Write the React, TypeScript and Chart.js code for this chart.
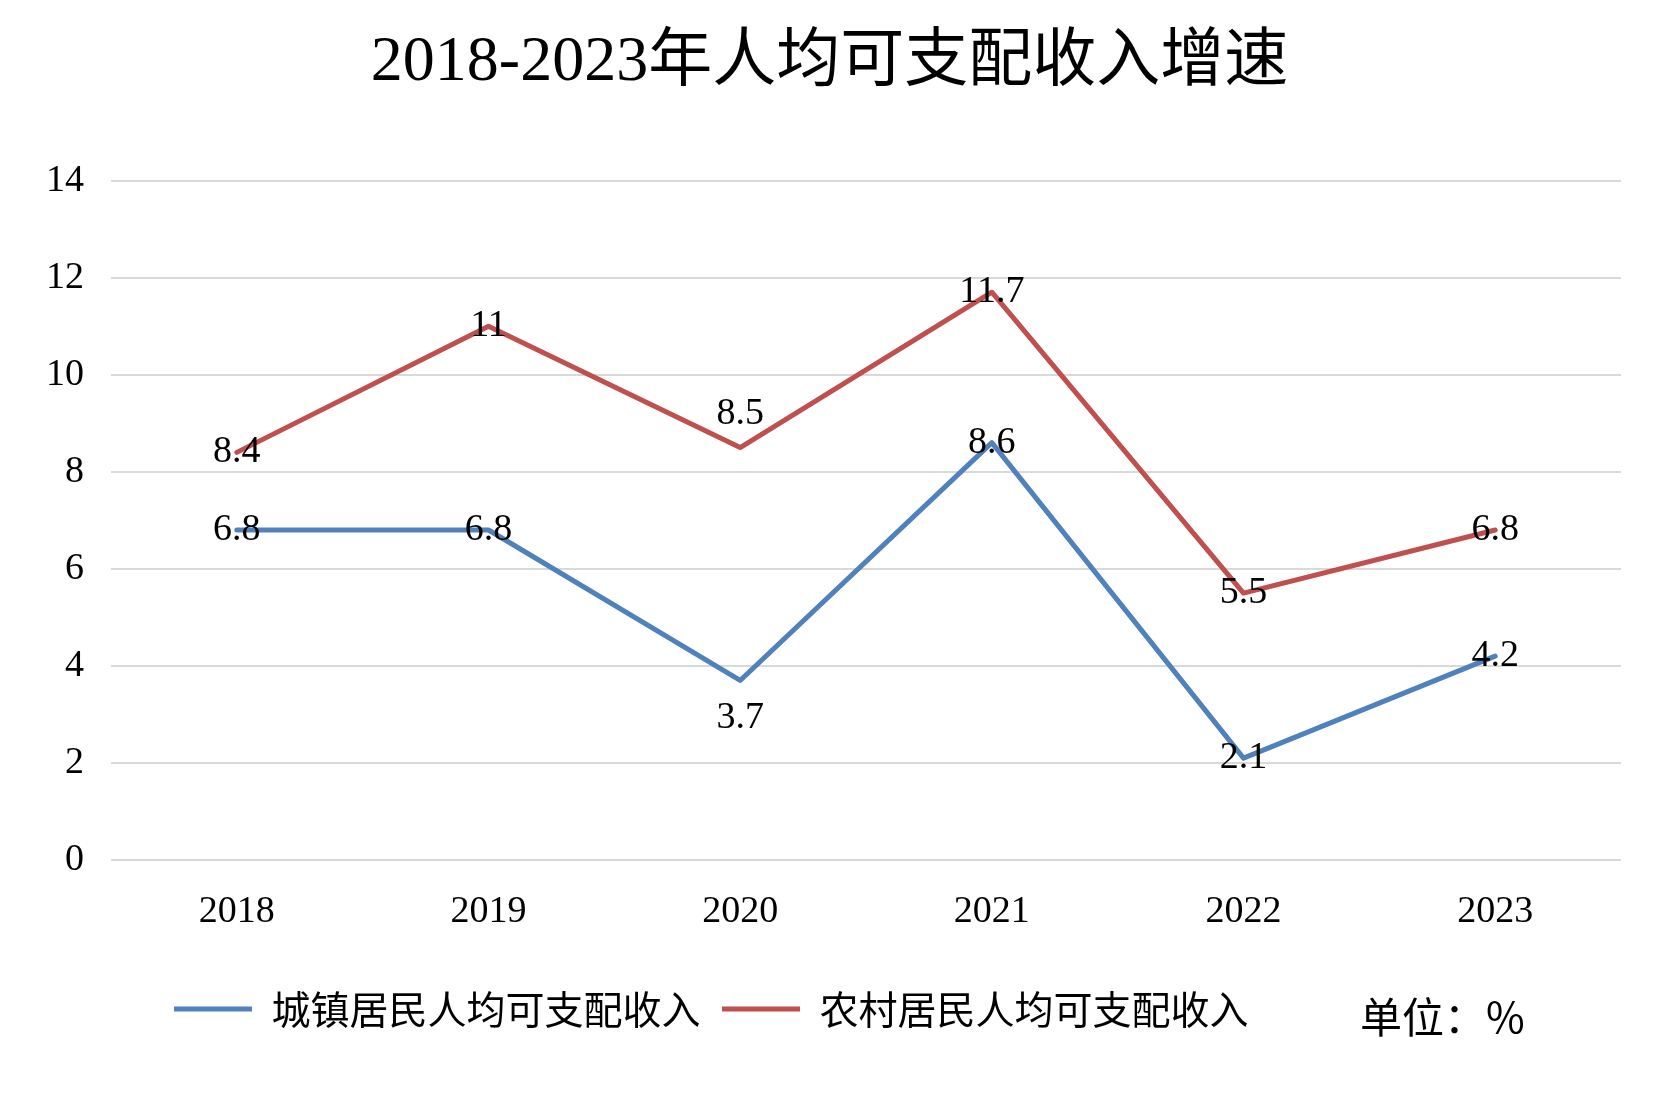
import React, { useEffect, useRef } from "react";
import { Chart, registerables } from "chart.js";

Chart.register(...registerables);

const titleText = "2018-2023年人均可支配收入增速";
const years = ["2018", "2019", "2020", "2021", "2022", "2023"];
const urbanName = "城镇居民人均可支配收入";
const ruralName = "农村居民人均可支配收入";
const urbanGrowth = [6.8, 6.8, 3.7, 8.6, 2.1, 4.2];
const ruralGrowth = [8.4, 11, 8.5, 11.7, 5.5, 6.8];
const urbanLabelPlacement = ["center", "center", "below", "center", "center", "center"];
const ruralLabelPlacement = ["center", "center", "above", "center", "center", "center"];
const unitText = "单位：%";
const yMin = 0;
const yMax = 14;
const yStep = 2;

const BLUE = "#4f81bd";
const RED = "#c0504d";
const SERIF = "'Liberation Serif', 'Times New Roman', serif";
const CJK = "'Noto Sans CJK SC', sans-serif";
const MIXED = "'Liberation Serif', 'Noto Sans CJK SC', serif";

const W = 1653;
const H = 1113;

export default function App() {
  const ref = useRef<HTMLCanvasElement | null>(null);

  useEffect(() => {
    const canvas = ref.current;
    if (!canvas) return;

    const placements = [urbanLabelPlacement, ruralLabelPlacement];

    const dataLabelPlugin = {
      id: "dataLabels",
      afterDatasetsDraw(chart: any) {
        const ctx = chart.ctx;
        ctx.save();
        ctx.font = `38px ${SERIF}`;
        ctx.fillStyle = "#000";
        ctx.textAlign = "center";
        ctx.textBaseline = "middle";
        chart.data.datasets.forEach((ds: any, di: number) => {
          const meta = chart.getDatasetMeta(di);
          meta.data.forEach((pt: any, i: number) => {
            const p = placements[di][i];
            const dy = p === "above" ? -33 : p === "below" ? 38 : 0;
            ctx.fillText(String(ds.data[i]), pt.x, pt.y + dy);
          });
        });
        ctx.restore();
      },
    };

    const layoutTweaks = {
      id: "layoutTweaks",
      afterLayout(chart: any) {
        const lg = chart.legend;
        if (lg) {
          lg.left = 152.5;
        }
        const t = chart.titleBlock;
        if (t) {
          t.left += 19;
          t.right += 19;
        }
      },
      afterDraw(chart: any) {
        const ctx = chart.ctx;
        ctx.save();
        ctx.font = `42px ${CJK}`;
        ctx.fillStyle = "#000";
        ctx.textAlign = "left";
        ctx.textBaseline = "middle";
        ctx.fillText(unitText, 1360, 1017);
        ctx.restore();
      },
    };

    const chart = new Chart(canvas, {
      type: "line",
      data: {
        labels: years,
        datasets: [
          {
            label: urbanName,
            data: urbanGrowth,
            borderColor: BLUE,
            backgroundColor: BLUE,
            borderWidth: 5,
            pointRadius: 0,
            tension: 0,
            borderJoinStyle: "round",
            borderCapStyle: "round",
          },
          {
            label: ruralName,
            data: ruralGrowth,
            borderColor: RED,
            backgroundColor: RED,
            borderWidth: 5,
            pointRadius: 0,
            tension: 0,
            borderJoinStyle: "round",
            borderCapStyle: "round",
          },
        ],
      },
      options: {
        responsive: false,
        animation: false,
        layout: { padding: { left: 0, right: 32, top: 0, bottom: 74.5 } },
        plugins: {
          title: {
            display: true,
            text: titleText,
            color: "#000",
            font: { family: MIXED, size: 64, weight: "normal", lineHeight: 1.2 },
            padding: { top: 24.6, bottom: 79.2 },
          },
          legend: {
            display: true,
            position: "bottom",
            align: "start",
            labels: {
              color: "#000",
              font: { family: CJK, size: 39 },
              boxWidth: 78,
              boxHeight: 5,
              padding: 21.5,
              generateLabels(chart: any) {
                return chart.data.datasets.map((ds: any, i: number) => ({
                  text: ds.label,
                  fillStyle: ds.borderColor,
                  strokeStyle: ds.borderColor,
                  lineWidth: 0,
                  hidden: false,
                  datasetIndex: i,
                  fontColor: "#000",
                }));
              },
            },
          },
          tooltip: { enabled: false },
        },
        scales: {
          x: {
            offset: true,
            grid: { display: false, drawTicks: false },
            border: { display: false },
            ticks: {
              color: "#000",
              font: { family: SERIF, size: 38, lineHeight: 1.2 },
              padding: 29.4,
              maxRotation: 0,
              autoSkip: false,
            },
            afterFit(scale: any) {
              scale.height = 108;
            },
          },
          y: {
            min: yMin,
            max: yMax,
            grid: { color: "#d9d9d9", lineWidth: 2, drawTicks: false },
            border: { display: false },
            ticks: {
              stepSize: yStep,
              color: "#000",
              font: { family: SERIF, size: 38, lineHeight: 1.2 },
              padding: 27,
            },
            afterFit(scale: any) {
              scale.width = 111;
            },
          },
        },
      },
      plugins: [dataLabelPlugin, layoutTweaks],
    } as any);

    return () => {
      chart.destroy();
    };
  }, []);

  return (
    <div
      style={{
        position: "absolute",
        left: 0,
        top: 0,
        width: W,
        height: H,
        background: "#fff",
      }}
    >
      <canvas ref={ref} width={W} height={H} style={{ display: "block", width: W, height: H }} />
    </div>
  );
}
